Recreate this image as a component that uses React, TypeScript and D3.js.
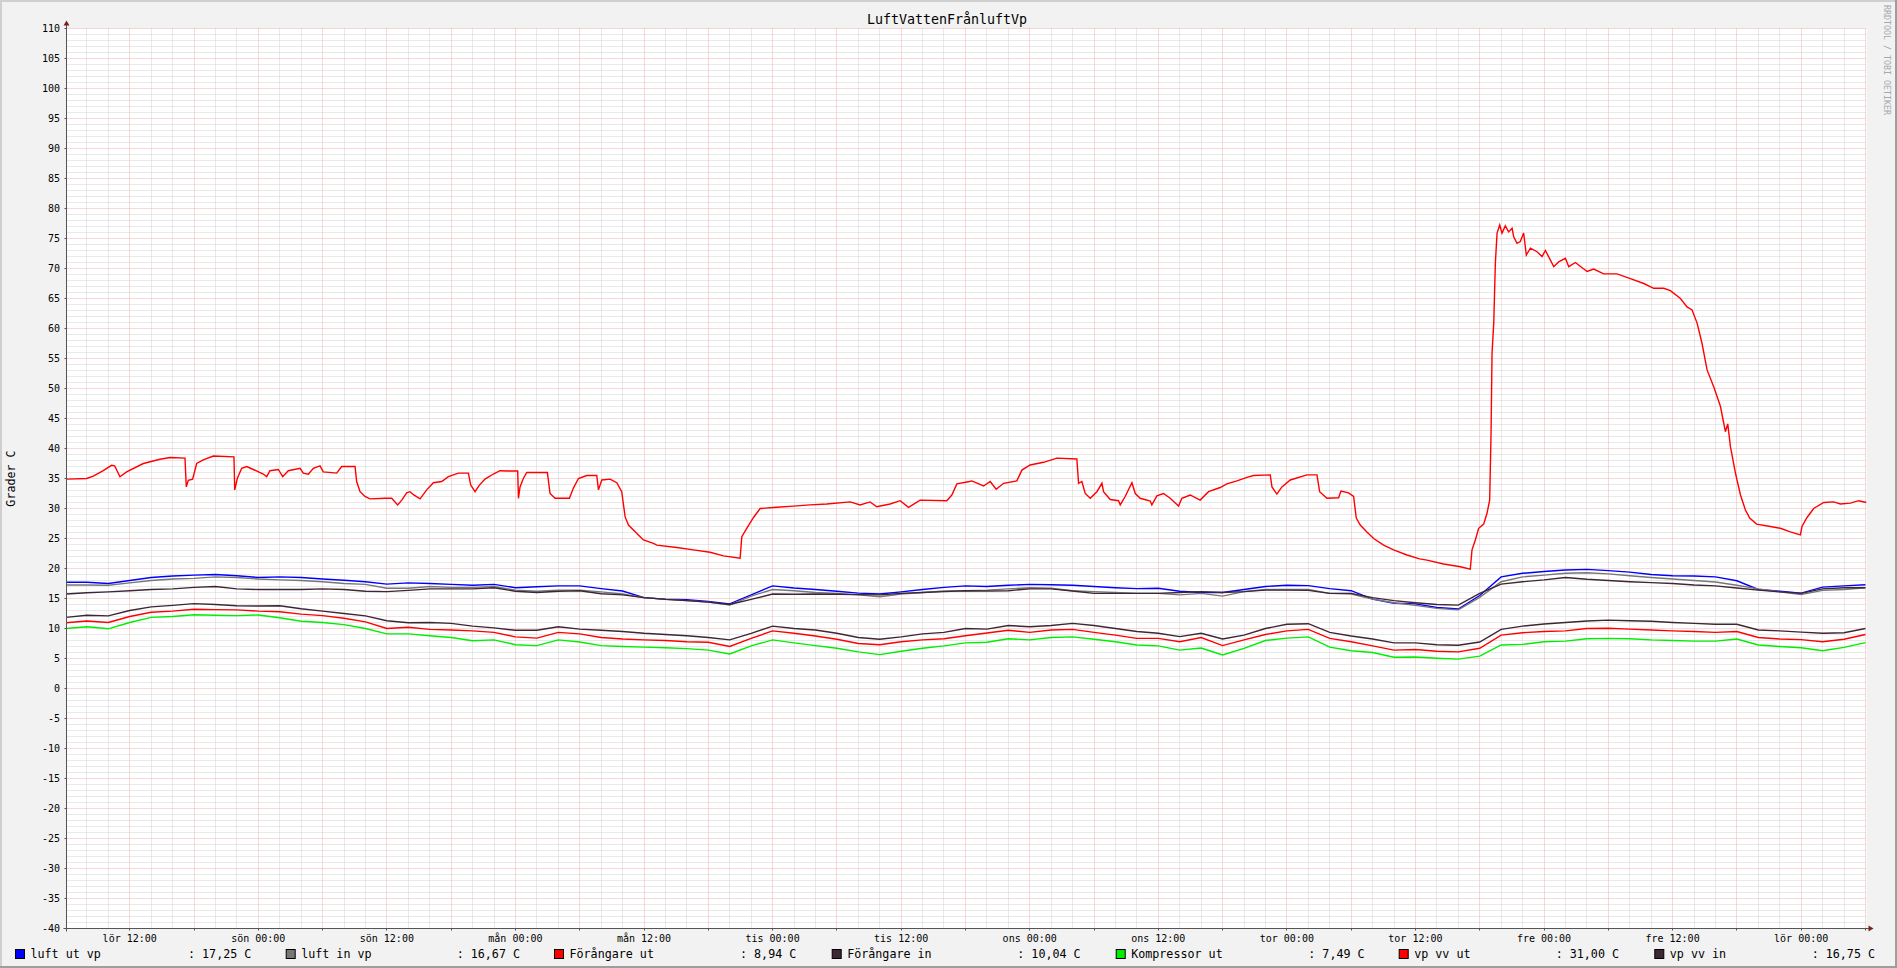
import React from "react";
import * as d3 from "d3";

const W = 1897;
const H = 968;

const TITLE = "LuftVattenFrånluftVp";
const Y_LABEL = "Grader C";
const WATERMARK = "RRDTOOL / TOBI OETIKER";
const DAY_NAMES = ["sön", "mån", "tis", "ons", "tor", "fre", "lör"];

// time axis: hours counted from "lör 00:00"
const BASE_UTC = Date.UTC(2015, 0, 3, 0, 0, 0);
const START_H = 6.1;
const END_H = 174.1;
const Y_MIN = -40;
const Y_MAX = 110;

// sample hours (every two hours) for the six smoother series
const SAMPLE_HOURS = d3.range(6, 175, 2);

const luftUtVp = [
  17.7, 17.7, 17.5, 18.0, 18.5, 18.75, 18.9, 19.0, 18.8, 18.5, 18.6, 18.5, 18.25, 18.05, 17.8, 17.4, 17.6, 17.5, 17.35, 17.2, 17.35, 16.8,
  16.97, 17.1, 17.1, 16.65, 16.25, 15.15, 14.9, 14.8, 14.5, 14.1, 15.6, 17.1, 16.75, 16.5, 16.2, 15.9, 15.75, 16.1, 16.5, 16.85, 17.1,
  17.0, 17.2, 17.35, 17.3, 17.2, 17.0, 16.8, 16.65, 16.7, 16.2, 16.0, 16.0, 16.5, 17.0, 17.2, 17.15, 16.65, 16.3, 14.9, 14.2, 14.1,
  13.5, 13.25, 15.5, 18.6, 19.2, 19.5, 19.75, 19.85, 19.65, 19.4, 19.0, 18.8, 18.75, 18.6, 17.95, 16.5, 16.2, 15.9, 16.9, 17.1, 17.3,
];

const luftInVp = [
  17.25, 17.25, 17.2, 17.6, 18.0, 18.25, 18.35, 18.6, 18.5, 18.25, 18.1, 18.0, 17.8, 17.5, 17.35, 16.7, 16.7, 17.0, 16.85, 16.85, 17.0, 16.4,
  16.2, 16.4, 16.4, 16.1, 15.75, 15.15, 14.85, 14.65, 14.4, 13.9, 15.4, 16.5, 16.3, 16.0, 15.85, 15.6, 15.3, 15.75, 16.0, 16.25, 16.3,
  16.4, 16.6, 16.8, 16.7, 16.3, 16.15, 16.0, 15.85, 15.85, 15.6, 15.85, 15.4, 16.15, 16.5, 16.5, 16.5, 15.85, 15.75, 14.9, 14.3, 13.85,
  13.35, 13.1, 15.2, 17.8, 18.6, 18.9, 19.2, 19.3, 19.1, 18.8, 18.5, 18.25, 18.0, 17.75, 17.2, 16.6, 16.1, 15.65, 16.35, 16.5, 16.8,
];

const forangareUt = [
  10.95, 11.25, 11.0, 12.0, 12.7, 12.9, 13.2, 13.15, 13.1, 12.9, 12.8, 12.4, 12.15, 11.7, 11.1, 10.0, 10.2, 9.85, 9.75, 9.6, 9.35, 8.6,
  8.4, 9.35, 9.1, 8.5, 8.25, 8.1, 8.0, 7.8, 7.7, 7.0, 8.35, 9.6, 9.2, 8.75, 8.2, 7.5, 7.3, 7.8, 8.1, 8.3, 8.8,
  9.25, 9.7, 9.35, 9.75, 9.85, 9.35, 8.9, 8.35, 8.35, 7.8, 8.5, 7.15, 8.1, 9.0, 9.6, 9.85, 8.35, 7.8, 7.1, 6.4, 6.5,
  6.2, 6.1, 6.7, 8.9, 9.3, 9.5, 9.6, 10.0, 10.05, 9.9, 9.75, 9.6, 9.5, 9.35, 9.5, 8.5, 8.25, 8.15, 7.8, 8.2, 9.0,
];

const forangareIn = [
  11.85, 12.2, 12.1, 13.0, 13.6, 13.85, 14.15, 14.0, 13.8, 13.75, 13.8, 13.3, 12.9, 12.5, 12.1, 11.3, 10.95, 11.0, 10.85, 10.4, 10.1, 9.7,
  9.7, 10.3, 9.9, 9.7, 9.5, 9.2, 9.0, 8.8, 8.5, 8.1, 9.2, 10.4, 10.0, 9.75, 9.2, 8.5, 8.2, 8.6, 9.1, 9.35, 10.0,
  9.9, 10.5, 10.3, 10.5, 10.85, 10.5, 10.0, 9.5, 9.2, 8.65, 9.2, 8.25, 8.9, 10.0, 10.7, 10.8, 9.35, 8.75, 8.25, 7.6, 7.6,
  7.3, 7.2, 7.75, 9.85, 10.4, 10.75, 11.0, 11.25, 11.4, 11.3, 11.2, 11.0, 10.85, 10.7, 10.7, 9.75, 9.6, 9.4, 9.2, 9.3, 10.0,
];

const kompressorUt = [
  10.0, 10.3, 9.95, 11.0, 11.85, 12.0, 12.3, 12.2, 12.15, 12.25, 11.8, 11.2, 11.0, 10.65, 10.0, 9.1, 9.1, 8.8, 8.5, 7.95, 8.1, 7.3,
  7.15, 8.1, 7.75, 7.15, 7.0, 6.9, 6.8, 6.65, 6.4, 5.75, 7.1, 8.1, 7.6, 7.15, 6.7, 6.1, 5.65, 6.2, 6.7, 7.1, 7.6,
  7.7, 8.3, 8.1, 8.5, 8.6, 8.2, 7.8, 7.25, 7.1, 6.4, 6.75, 5.6, 6.7, 8.0, 8.4, 8.6, 6.9, 6.3, 6.0, 5.2, 5.25,
  5.05, 4.9, 5.4, 7.25, 7.35, 7.8, 7.9, 8.3, 8.35, 8.3, 8.1, 8.0, 7.9, 7.9, 8.25, 7.25, 7.0, 6.8, 6.3, 6.85, 7.65,
];

const vpVvIn = [
  15.75, 15.95, 16.1, 16.3, 16.5, 16.6, 16.85, 17.0, 16.6, 16.5, 16.5, 16.5, 16.6, 16.5, 16.2, 16.15, 16.35, 16.6, 16.6, 16.6, 16.8, 16.2,
  16.0, 16.2, 16.3, 15.8, 15.6, 15.15, 14.85, 14.65, 14.4, 14.0, 14.85, 15.75, 15.7, 15.75, 15.7, 15.65, 15.6, 15.85, 16.0, 16.15, 16.3,
  16.25, 16.3, 16.6, 16.6, 16.25, 15.85, 15.85, 15.85, 15.85, 16.0, 16.15, 16.0, 16.15, 16.4, 16.4, 16.35, 15.85, 15.85, 15.15, 14.65, 14.3,
  14.0, 13.9, 15.85, 17.4, 17.8, 18.1, 18.5, 18.2, 18.0, 17.8, 17.65, 17.5, 17.25, 17.1, 16.75, 16.4, 16.1, 15.85, 16.6, 16.8, 16.8,
];

// vp vv ut: [hour, value] break points
const vpVvUt: [number, number][] = [
  [6.1, 34.9], [7.98, 35.0], [8.6, 35.4], [9.53, 36.3], [10.31, 37.2], [10.6, 37.1], [11.09, 35.3], [11.71, 36.1], [13.27, 37.5], [14.83, 38.2],
  [15.76, 38.5], [17.16, 38.4], [17.28, 33.6], [17.47, 34.7], [17.87, 34.9], [18.25, 37.5], [18.87, 38.1], [19.8, 38.75], [21.73, 38.6], [21.8, 33.1],
  [22.04, 35.0], [22.45, 36.7], [22.92, 37.0], [23.54, 36.5], [24.47, 35.75], [24.78, 35.3], [25.09, 36.3], [25.87, 36.5], [26.28, 35.3], [26.8, 36.3],
  [27.9, 36.7], [28.2, 35.9], [28.67, 35.7], [29.14, 36.7], [29.76, 37.1], [30.07, 36.1], [31.32, 35.9], [31.78, 37.0], [33.03, 37.0], [33.18, 34.5],
  [33.5, 32.8], [33.96, 32.0], [34.43, 31.6], [35.83, 31.7], [36.45, 31.7], [37.01, 30.6], [37.39, 31.4], [37.85, 32.6], [38.16, 32.8], [38.48, 32.3],
  [39.1, 31.6], [39.72, 33.1], [40.34, 34.3], [41.12, 34.5], [41.74, 35.3], [42.68, 35.9], [43.61, 35.9], [43.83, 33.9], [44.23, 32.8], [44.64, 33.9],
  [45.16, 34.9], [45.94, 35.75], [46.56, 36.3], [47.34, 36.25], [48.21, 36.25], [48.28, 31.7], [48.43, 33.6], [48.74, 35.0], [49.06, 36.0], [50.98, 36.0],
  [51.23, 32.5], [51.7, 31.7], [53.04, 31.7], [53.41, 33.4], [53.88, 35.0], [54.66, 35.5], [55.59, 35.5], [55.75, 33.1], [56.06, 34.75], [56.84, 34.9],
  [57.46, 34.3], [57.92, 32.8], [58.24, 28.6], [58.55, 27.25], [59.48, 25.6], [59.95, 24.75], [60.88, 24.2], [61.19, 23.9], [63.06, 23.5], [64.61, 23.1],
  [66.17, 22.7], [67.42, 22.1], [68.97, 21.7], [69.13, 25.3], [69.59, 26.7], [70.22, 28.5], [70.84, 30.0], [72.39, 30.2], [73.95, 30.4], [75.5, 30.6],
  [77.06, 30.75], [79.24, 31.1], [80.17, 30.6], [81.1, 31.1], [81.73, 30.3], [82.97, 30.75], [83.91, 31.3], [84.69, 30.2], [85.77, 31.4], [88.26, 31.3],
  [88.73, 32.25], [89.2, 34.1], [90.38, 34.5], [90.6, 34.6], [91.69, 33.75], [92.31, 34.5], [92.87, 33.2], [93.56, 34.2], [94.8, 34.6], [95.27, 36.4],
  [96.04, 37.25], [97.29, 37.7], [98.53, 38.4], [100.4, 38.25], [100.56, 34.2], [100.87, 34.5], [101.18, 32.5], [101.65, 31.7], [102.27, 32.8], [102.74, 34.2],
  [102.89, 32.8], [103.51, 31.5], [104.29, 31.3], [104.45, 30.6], [104.91, 32.0], [105.54, 34.3], [105.85, 32.5], [106.31, 31.7], [107.25, 31.25], [107.4, 30.6],
  [107.87, 32.1], [108.49, 32.5], [109.11, 31.7], [109.89, 30.4], [110.2, 31.7], [110.98, 32.25], [111.91, 31.4], [112.69, 32.8], [113.78, 33.5], [114.4, 34.1],
  [115.34, 34.6], [116.27, 35.2], [116.89, 35.5], [118.45, 35.6], [118.61, 33.6], [119.07, 32.4], [119.54, 33.6], [120.32, 34.75], [121.87, 35.6], [122.81, 35.6],
  [123.06, 32.8], [123.74, 31.7], [124.83, 31.8], [125.05, 32.9], [125.76, 32.6], [126.23, 32.0], [126.48, 28.4], [126.85, 27.25], [127.47, 26.1], [128.1, 25.0],
  [129.03, 23.9], [129.96, 23.1], [131.21, 22.25], [132.39, 21.6], [133.08, 21.4], [134.63, 20.75], [136.19, 20.3], [137.12, 19.9], [137.28, 23.1], [137.59, 24.75],
  [137.9, 26.7], [138.37, 27.4], [138.68, 29.2], [138.93, 31.4], [139.06, 42.8], [139.15, 55.9], [139.31, 60.9], [139.46, 70.9], [139.62, 75.9], [139.87, 77.25],
  [140.08, 75.9], [140.39, 77.1], [140.7, 76.1], [141.02, 76.7], [141.17, 75.3], [141.48, 74.2], [141.79, 74.5], [142.1, 75.9], [142.35, 72.25], [142.73, 73.4],
  [143.35, 72.8], [143.82, 72.0], [144.13, 73.0], [144.6, 71.4], [144.91, 70.3], [145.37, 71.1], [146.0, 71.7], [146.31, 70.3], [146.93, 71.0], [148.02, 69.5],
  [148.64, 69.9], [149.57, 69.1], [150.82, 69.1], [152.06, 68.3], [153.31, 67.5], [154.24, 66.7], [155.18, 66.7], [155.8, 66.3], [156.73, 65.0], [157.35, 63.6],
  [157.82, 63.1], [158.29, 60.9], [158.75, 57.5], [159.22, 53.1], [159.84, 50.3], [160.47, 47.0], [160.93, 42.8], [161.15, 44.1], [161.4, 40.3], [161.87, 35.9],
  [162.33, 32.3], [162.8, 29.75], [163.2, 28.4], [163.84, 27.4], [165.13, 27.0], [166.06, 26.7], [166.99, 26.1], [167.93, 25.6], [168.08, 27.0], [168.55, 28.5],
  [169.17, 30.0], [170.11, 31.0], [171.04, 31.1], [171.66, 30.75], [172.6, 30.9], [173.37, 31.3], [174.1, 31.0],
];

const LEGEND_NAMES = ["luft ut vp", "luft in vp", "Förångare ut", "Förångare in", "Kompressor ut", "vp vv ut", "vp vv in"];
const LEGEND_LAST = ["17,25", "16,67", "8,94", "10,04", "7,49", "31,00", "16,75"];
const UNIT = "C";

// styling / layout (not data)
const COLORS = ["#0000FF", "#777777", "#FF0000", "#3F2634", "#00EE00", "#FF0000", "#3F2634"];
const LEGEND_BOX_X = [15, 285.7, 554, 831.7, 1115.7, 1398.7, 1654.3];
const LEGEND_VALUE_X = [188, 456.7, 740, 1017.3, 1308.3, 1555.7, 1811.7];
const FONT = "'DejaVu Sans Mono', monospace";

const PLOT_L = 66.5;
const PLOT_R = 1866.5;
const PLOT_T = 28.5;
const PLOT_B = 928.5;

const hToDate = (h: number) => new Date(BASE_UTC + h * 3600 * 1000);

export default function App() {
  const x = d3.scaleUtc().domain([hToDate(START_H), hToDate(END_H)]).range([PLOT_L, PLOT_R]);
  const y = d3.scaleLinear().domain([Y_MIN, Y_MAX]).range([PLOT_B, PLOT_T]);
  const crisp = (v: number) => Math.round(v - 0.5) + 0.5;

  const minorT = x.ticks(d3.utcHour.every(2)!);
  const majorT = x.ticks(d3.utcHour.every(6)!);
  const labelT = x.ticks(d3.utcHour.every(12)!);
  const yAll = d3.range(Y_MIN, Y_MAX + 1, 1);
  const hm = d3.utcFormat("%H:%M");
  const fmt = (d: Date) => `${DAY_NAMES[d.getUTCDay()]} ${hm(d)}`;

  const lineGen = d3
    .line<[number, number]>()
    .x((d) => x(hToDate(d[0])))
    .y((d) => y(d[1]));

  const smooth = [luftUtVp, luftInVp, forangareUt, forangareIn, kompressorUt];
  const seriesPaths: { d: string; color: string }[] = [];
  smooth.forEach((vals, i) => {
    const pts = SAMPLE_HOURS.map((h, k) => [h, vals[k]] as [number, number]);
    seriesPaths.push({ d: lineGen(pts) || "", color: COLORS[i] });
  });
  seriesPaths.push({ d: lineGen(vpVvUt) || "", color: COLORS[5] });
  seriesPaths.push({
    d: lineGen(SAMPLE_HOURS.map((h, k) => [h, vpVvIn[k]] as [number, number])) || "",
    color: COLORS[6],
  });

  const isMajorT = (d: Date) => majorT.some((m) => +m === +d);

  return (
    <svg width={W} height={H} style={{ display: "block", position: "absolute", left: 0, top: 0 }} fontFamily={FONT}>
      <defs>
        <clipPath id="plotclip">
          <rect x={PLOT_L} y={PLOT_T - 1} width={PLOT_R - PLOT_L} height={PLOT_B - PLOT_T + 1} />
        </clipPath>
      </defs>
      {/* background + frame */}
      <rect x={0} y={0} width={W} height={H} fill="#F2F2F2" />
      <rect x={0} y={0} width={W} height={2} fill="#CFCFCF" />
      <rect x={0} y={0} width={2} height={H} fill="#CFCFCF" />
      <rect x={0} y={H - 2} width={W} height={2} fill="#9E9E9E" />
      <rect x={W - 2} y={0} width={2} height={H} fill="#9E9E9E" />
      {/* canvas */}
      <rect x={PLOT_L} y={PLOT_T} width={PLOT_R - PLOT_L} height={PLOT_B - PLOT_T} fill="#FFFFFF" />

      {/* minor grid */}
      <g stroke="#D3D3D3" strokeWidth={1} strokeDasharray="1,1">
        {yAll
          .filter((v) => v % 5 !== 0)
          .map((v) => (
            <line key={"hy" + v} x1={PLOT_L} x2={PLOT_R} y1={crisp(y(v))} y2={crisp(y(v))} />
          ))}
        {minorT
          .filter((d) => !isMajorT(d))
          .map((d) => (
            <line key={"vx" + +d} x1={crisp(x(d))} x2={crisp(x(d))} y1={PLOT_T} y2={PLOT_B} />
          ))}
      </g>
      {/* major grid */}
      <g stroke="#F2B0B0" strokeWidth={1} strokeDasharray="1,1">
        {yAll
          .filter((v) => v % 5 === 0)
          .map((v) => (
            <line key={"Hy" + v} x1={PLOT_L} x2={PLOT_R} y1={crisp(y(v))} y2={crisp(y(v))} />
          ))}
        {majorT.map((d) => (
          <line key={"Vx" + +d} x1={crisp(x(d))} x2={crisp(x(d))} y1={PLOT_T} y2={PLOT_B} />
        ))}
      </g>

      {/* series */}
      <g clipPath="url(#plotclip)" fill="none" strokeWidth={1.4} strokeLinejoin="miter">
        {seriesPaths.map((s, i) => (
          <path key={i} d={s.d} stroke={s.color} />
        ))}
      </g>

      {/* axes */}
      <g stroke="#555" strokeWidth={1}>
        <line x1={PLOT_L} x2={PLOT_L} y1={PLOT_B + 3} y2={PLOT_T - 4} />
        <line x1={PLOT_L - 3} x2={PLOT_R + 3} y1={PLOT_B} y2={PLOT_B} />
        {yAll
          .filter((v) => v % 5 === 0)
          .map((v) => (
            <line key={"ty" + v} x1={PLOT_L - 2} x2={PLOT_L} y1={crisp(y(v))} y2={crisp(y(v))} />
          ))}
        {majorT.map((d) => (
          <line key={"tx" + +d} x1={crisp(x(d))} x2={crisp(x(d))} y1={PLOT_B} y2={PLOT_B + 2} />
        ))}
      </g>
      <polygon points={`${PLOT_L - 3},${PLOT_T - 3} ${PLOT_L + 3},${PLOT_T - 3} ${PLOT_L},${PLOT_T - 8}`} fill="#801F1F" />
      <polygon points={`${PLOT_R + 2},${PLOT_B - 3} ${PLOT_R + 2},${PLOT_B + 3} ${PLOT_R + 7},${PLOT_B}`} fill="#801F1F" />

      {/* y tick labels */}
      <g fontSize={10} fill="#000" textAnchor="end">
        {yAll
          .filter((v) => v % 5 === 0)
          .map((v) => (
            <text key={"ly" + v} x={60} y={y(v) + 3.6}>
              {v}
            </text>
          ))}
      </g>
      {/* x tick labels */}
      <g fontSize={10} fill="#000" textAnchor="middle">
        {labelT.map((d) => (
          <text key={"lx" + +d} x={x(d)} y={941.5}>
            {fmt(d)}
          </text>
        ))}
      </g>

      {/* title */}
      <text x={947} y={23.5} fontSize={13.3} textAnchor="middle" fill="#000">
        {TITLE}
      </text>
      {/* y axis label */}
      <text transform={`translate(14.5, ${(PLOT_T + PLOT_B) / 2}) rotate(-90)`} fontSize={11.7} textAnchor="middle" fill="#000">
        {Y_LABEL}
      </text>
      {/* watermark */}
      <text transform={`translate(1884, 5) rotate(90)`} fontSize={8.3} fill="#A8A8A8">
        {WATERMARK}
      </text>

      {/* legend */}
      <g fontSize={11.7} fill="#000">
        {LEGEND_NAMES.map((name, i) => (
          <g key={"lg" + i}>
            <rect x={LEGEND_BOX_X[i] + 0.5} y={949.5} width={9} height={9} fill={COLORS[i]} stroke="#000" strokeWidth={1} />
            <text x={LEGEND_BOX_X[i] + 15.5} y={958}>
              {name}
            </text>
            <text x={LEGEND_VALUE_X[i]} y={958}>
              {`: ${LEGEND_LAST[i]} ${UNIT}`}
            </text>
          </g>
        ))}
      </g>
    </svg>
  );
}
